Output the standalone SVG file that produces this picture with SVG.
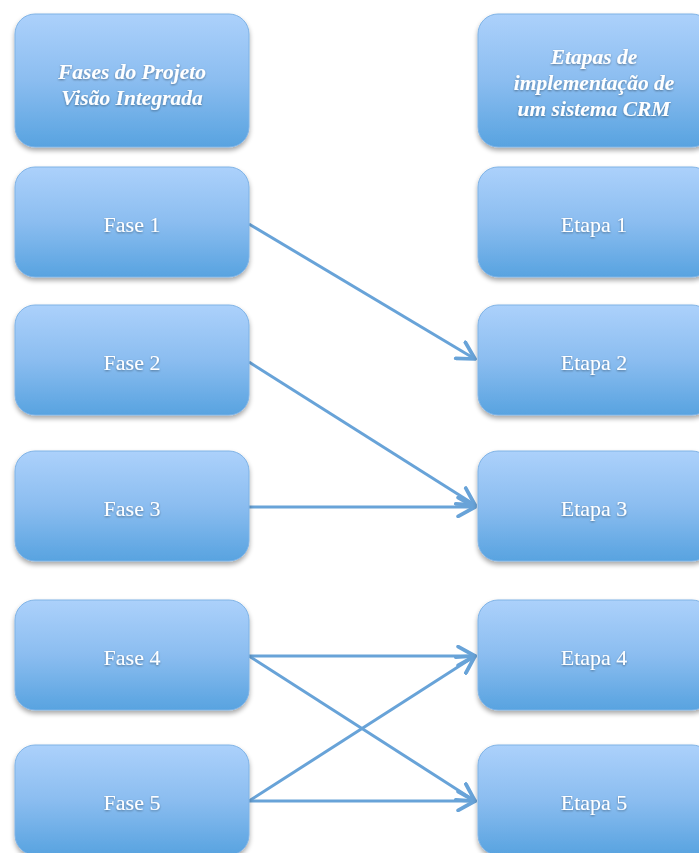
<svg xmlns="http://www.w3.org/2000/svg" width="699" height="853" viewBox="0 0 699 853">
<defs>
<linearGradient id="g" x1="0" y1="0" x2="0" y2="1">
<stop offset="0" stop-color="#acd1fb"/>
<stop offset="0.5" stop-color="#8bbdf0"/>
<stop offset="1" stop-color="#58a3e0"/>
</linearGradient>
<filter id="sh" x="-10%" y="-10%" width="120%" height="130%">
<feGaussianBlur in="SourceAlpha" stdDeviation="2.5"/>
<feOffset dx="0" dy="3" result="b"/>
<feComponentTransfer><feFuncA type="linear" slope="0.35"/></feComponentTransfer>
<feMerge><feMergeNode/><feMergeNode in="SourceGraphic"/></feMerge>
</filter>
<filter id="ts" x="-10%" y="-20%" width="120%" height="140%">
<feGaussianBlur in="SourceAlpha" stdDeviation="1"/>
<feOffset dx="0" dy="1"/>
<feComponentTransfer><feFuncA type="linear" slope="0.4"/></feComponentTransfer>
<feMerge><feMergeNode/><feMergeNode in="SourceGraphic"/></feMerge>
</filter>
<marker id="ah" viewBox="0 0 12 12" refX="10" refY="6" markerWidth="7.5" markerHeight="7.5" markerUnits="strokeWidth" orient="auto">
<path d="M1,1 L10,6 L1,11" fill="none" stroke="#68a3d8" stroke-width="2" stroke-linecap="round" stroke-linejoin="round"/>
</marker>
</defs>
<style>
.box{fill:url(#g);stroke:#7fb3e6;stroke-width:1;filter:url(#sh)}
.t{font-family:"Liberation Serif","Times New Roman",serif;font-size:22px;fill:#ffffff;text-anchor:middle;filter:url(#ts)}
.h{font-weight:bold;font-style:italic;font-size:21.5px}
.c{stroke:#68a3d8;stroke-width:3;fill:none;marker-end:url(#ah)}
</style>
<g id="connectors">
<line class="c" x1="249" y1="224" x2="475" y2="359"/>
<line class="c" x1="249" y1="362" x2="475" y2="505"/>
<line class="c" x1="249" y1="507" x2="475" y2="507"/>
<line class="c" x1="249" y1="656" x2="475" y2="656"/>
<line class="c" x1="249" y1="656" x2="475" y2="801"/>
<line class="c" x1="249" y1="801" x2="475" y2="656"/>
<line class="c" x1="249" y1="801" x2="475" y2="801"/>
</g>
<g id="h1"><rect class="box" x="15" y="14" width="234" height="133" rx="20"/>
<text class="t h" x="132" y="79">Fases do Projeto</text>
<text class="t h" x="132" y="105">Visão Integrada</text></g>
<g id="h2"><rect class="box" x="478" y="14" width="234" height="133" rx="20"/>
<text class="t h" x="594" y="64">Etapas de</text>
<text class="t h" x="594" y="90">implementação de</text>
<text class="t h" x="594" y="116">um sistema CRM</text></g>
<g id="f1"><rect class="box" x="15" y="167" width="234" height="110" rx="20"/><text class="t" x="132" y="232">Fase 1</text></g>
<g id="f2"><rect class="box" x="15" y="305" width="234" height="110" rx="20"/><text class="t" x="132" y="370">Fase 2</text></g>
<g id="f3"><rect class="box" x="15" y="451" width="234" height="110" rx="20"/><text class="t" x="132" y="516">Fase 3</text></g>
<g id="f4"><rect class="box" x="15" y="600" width="234" height="110" rx="20"/><text class="t" x="132" y="665">Fase 4</text></g>
<g id="f5"><rect class="box" x="15" y="745" width="234" height="110" rx="20"/><text class="t" x="132" y="810">Fase 5</text></g>
<g id="e1"><rect class="box" x="478" y="167" width="234" height="110" rx="20"/><text class="t" x="594" y="232">Etapa 1</text></g>
<g id="e2"><rect class="box" x="478" y="305" width="234" height="110" rx="20"/><text class="t" x="594" y="370">Etapa 2</text></g>
<g id="e3"><rect class="box" x="478" y="451" width="234" height="110" rx="20"/><text class="t" x="594" y="516">Etapa 3</text></g>
<g id="e4"><rect class="box" x="478" y="600" width="234" height="110" rx="20"/><text class="t" x="594" y="665">Etapa 4</text></g>
<g id="e5"><rect class="box" x="478" y="745" width="234" height="110" rx="20"/><text class="t" x="594" y="810">Etapa 5</text></g>
</svg>
